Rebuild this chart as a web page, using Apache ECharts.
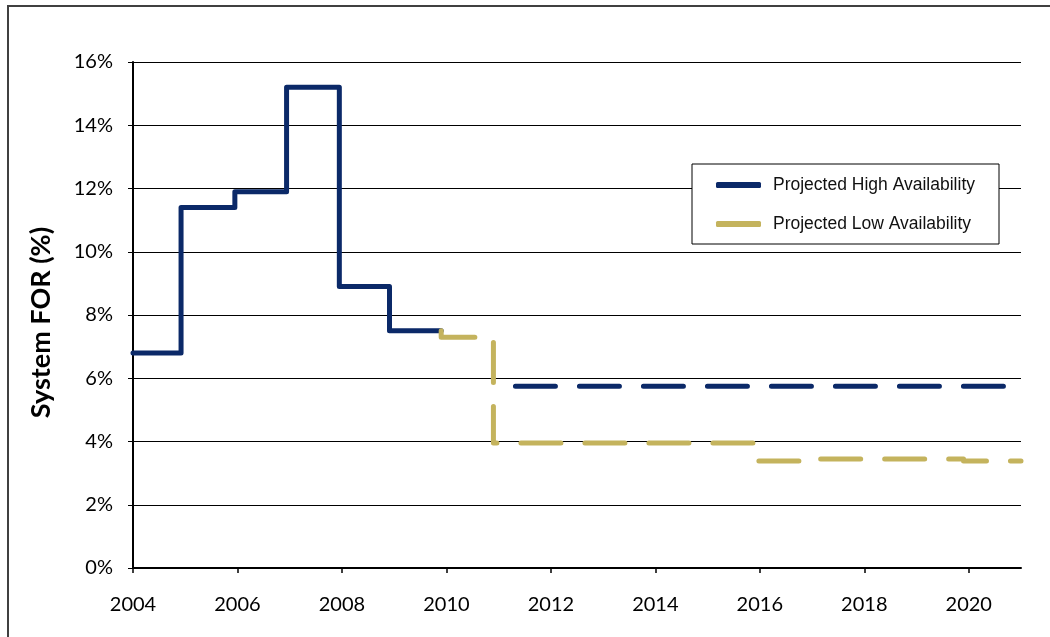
<!DOCTYPE html>
<html>
<head>
<meta charset="utf-8">
<script src="https://cdn.jsdelivr.net/npm/echarts@6/dist/echarts.min.js"></script>
<style>
html,body{margin:0;padding:0;background:#fff;}
#chart{width:1050px;height:637px;}
</style>
</head>
<body>
<div id="chart"></div>
<script>
// Historical system FOR (step values, each value holds until the next x)
const histX = [2004, 2004.92, 2005.95, 2006.94, 2007.95, 2008.91, 2009.9];
const histY = [6.8, 11.4, 11.9, 15.2, 8.9, 7.5, 7.5];
// Projected series (step 'start': each y holds over the interval ending at its x)
const highX = [2010.9, 2021];
const highY = [5.75, 5.75];
const lowX = [2009.9, 2010.9, 2015.9, 2016.9, 2019.9, 2021];
const lowY = [7.5, 7.3, 3.95, 3.38, 3.45, 3.38];
const xTicks = [2004, 2006, 2008, 2010, 2012, 2014, 2016, 2018, 2020];
const yTicks = [0, 2, 4, 6, 8, 10, 12, 14, 16];
const seriesNames = ['Projected High Availability', 'Projected Low Availability'];

const zip = (xs, ys) => xs.map((x, i) => [x, ys[i]]);
const BLUE = '#0b2968';
const GOLD = '#c4b35d';
const FONT = 'Lato, "Liberation Sans", sans-serif';

const chart = echarts.init(document.getElementById('chart'));
chart.setOption({
  animation: false,
  backgroundColor: '#fff',
  graphic: [{
    type: 'rect', silent: true, z: -10,
    shape: { x: 8, y: 6, width: 1200, height: 800 },
    style: { fill: 'none', stroke: '#404040', lineWidth: 2 }
  }],
  grid: { left: 133, top: 62, right: 29, bottom: 69, containLabel: false },
  legend: {
    data: seriesNames,
    orient: 'vertical',
    left: 692, top: 164,
    padding: [12, 24, 11, 24],
    itemGap: 21,
    itemWidth: 45, itemHeight: 6,
    icon: 'roundRect',
    backgroundColor: '#fff',
    borderColor: '#000', borderWidth: 1,
    textStyle: { fontFamily: '"Liberation Sans", Arial, sans-serif', fontSize: 17.5, color: '#111', padding: [0, 0, 0, 7], lineHeight: 18 }
  },
  xAxis: {
    type: 'value', min: 2004, max: 2021, interval: 2,
    axisLine: { show: true, lineStyle: { color: '#000', width: 2 } },
    axisTick: { show: true, length: 5, lineStyle: { color: '#000', width: 1.5 }, customValues: xTicks },
    axisLabel: { fontFamily: FONT, fontSize: 20, color: '#000', margin: 27, customValues: xTicks, formatter: v => String(v) },
    splitLine: { show: false }
  },
  yAxis: {
    type: 'value', min: 0, max: 16, interval: 2,
    name: 'System FOR (%)', nameLocation: 'middle', nameGap: 78,
    nameTextStyle: { fontFamily: FONT, fontSize: 27, fontWeight: 'bold', color: '#000', padding: [0, 15, 0, 0] },
    axisLine: { show: true, lineStyle: { color: '#000', width: 2 } },
    axisTick: { show: true, length: 5, inside: false, lineStyle: { color: '#000', width: 1 } },
    axisLabel: { fontFamily: FONT, fontSize: 20, color: '#000', margin: 20, formatter: v => yTicks.includes(v) ? v + '%' : '' },
    splitLine: { show: true, lineStyle: { color: '#000', width: 1 } }
  },
  series: [
    {
      name: 'Historical', type: 'line', step: 'end', symbol: 'none', z: 3,
      data: zip(histX, histY),
      lineStyle: { color: BLUE, width: 5, cap: 'round', join: 'round' },
      itemStyle: { color: BLUE }
    },
    {
      name: seriesNames[0], type: 'line', step: 'start', symbol: 'none', z: 4,
      data: zip(highX, highY),
      lineStyle: { color: BLUE, width: 5, type: [40, 24], dashOffset: 42, cap: 'round', join: 'round' },
      itemStyle: { color: BLUE }
    },
    {
      name: seriesNames[1], type: 'line', step: 'start', symbol: 'none', z: 5,
      data: zip(lowX, lowY),
      lineStyle: { color: GOLD, width: 5, type: [40, 24], cap: 'round', join: 'round' },
      itemStyle: { color: GOLD }
    }
  ]
});
</script>
</body>
</html>
